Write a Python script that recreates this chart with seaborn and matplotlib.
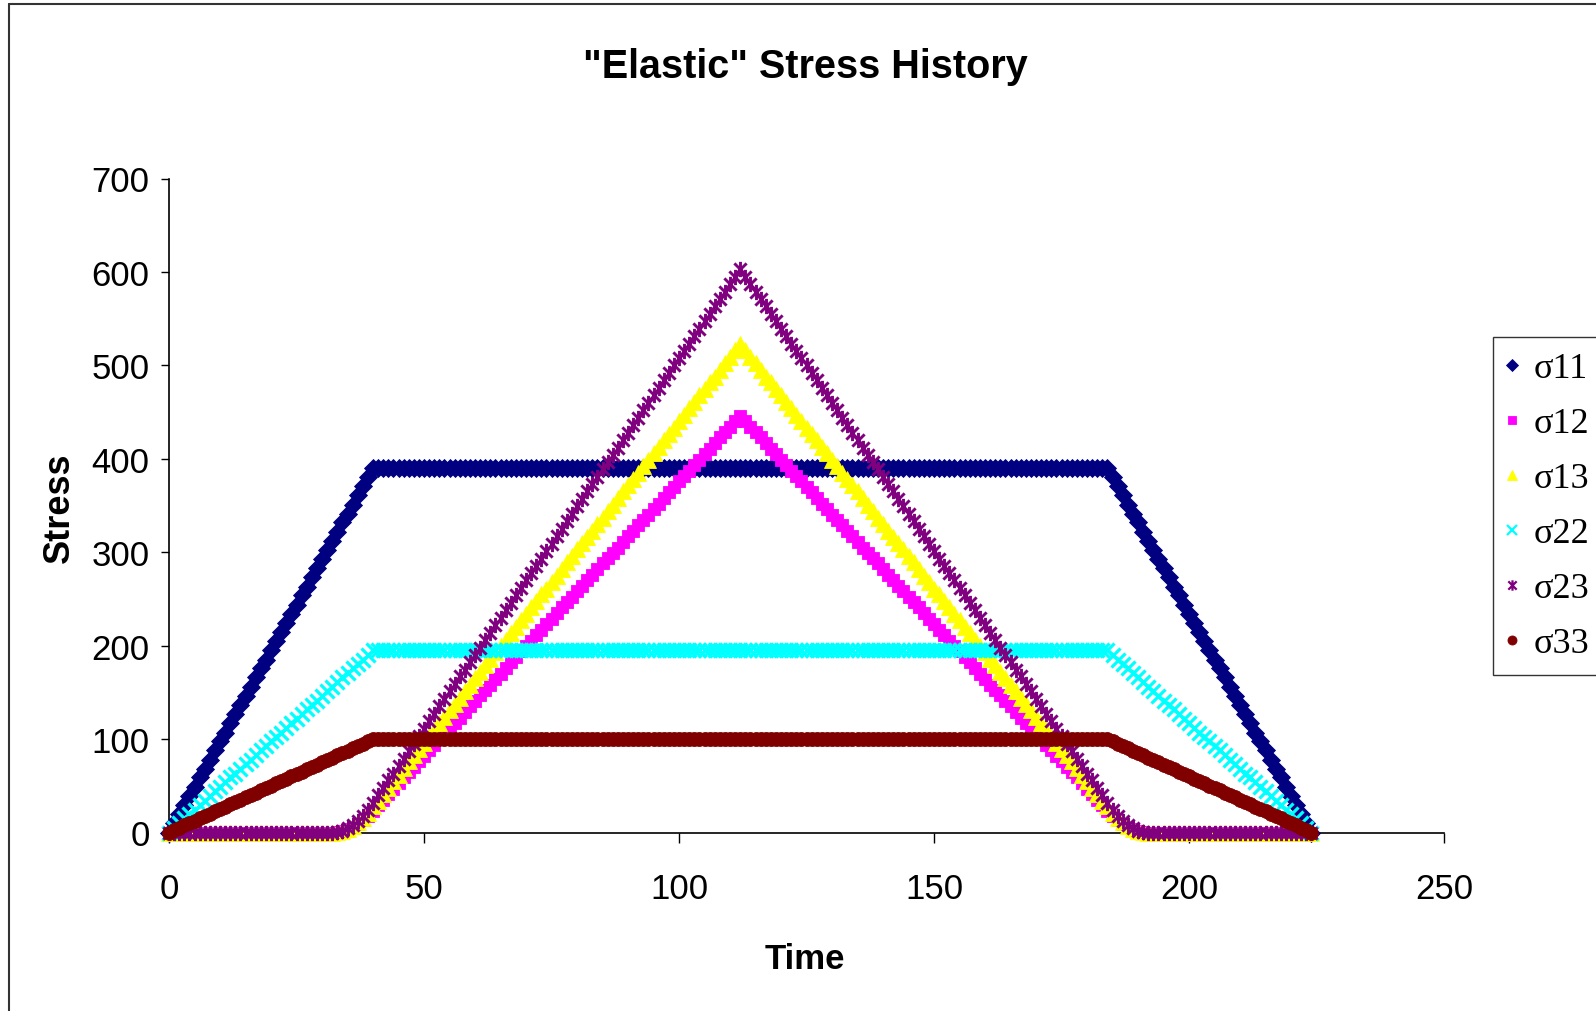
import matplotlib
matplotlib.use("Agg")
import matplotlib.pyplot as plt
from matplotlib.path import Path
from matplotlib.lines import Line2D
import seaborn as sns
import pandas as pd

# ---------------- data ----------------
time = [
    0, 1, 2, 3, 4, 5, 6, 7, 8, 9, 10, 11, 12, 13, 14, 15, 16, 17, 18, 19, 20, 21, 22, 23, 24,
    25, 26, 27, 28, 29, 30, 31, 32, 33, 34, 35, 36, 37, 38, 39, 40, 41, 42, 43, 44, 45, 46, 47, 48, 49,
    50, 51, 52, 53, 54, 55, 56, 57, 58, 59, 60, 61, 62, 63, 64, 65, 66, 67, 68, 69, 70, 71, 72, 73, 74,
    75, 76, 77, 78, 79, 80, 81, 82, 83, 84, 85, 86, 87, 88, 89, 90, 91, 92, 93, 94, 95, 96, 97, 98, 99,
    100, 101, 102, 103, 104, 105, 106, 107, 108, 109, 110, 111, 112, 113, 114, 115, 116, 117, 118, 119, 120, 121, 122, 123, 124,
    125, 126, 127, 128, 129, 130, 131, 132, 133, 134, 135, 136, 137, 138, 139, 140, 141, 142, 143, 144, 145, 146, 147, 148, 149,
    150, 151, 152, 153, 154, 155, 156, 157, 158, 159, 160, 161, 162, 163, 164, 165, 166, 167, 168, 169, 170, 171, 172, 173, 174,
    175, 176, 177, 178, 179, 180, 181, 182, 183, 184, 185, 186, 187, 188, 189, 190, 191, 192, 193, 194, 195, 196, 197, 198, 199,
    200, 201, 202, 203, 204, 205, 206, 207, 208, 209, 210, 211, 212, 213, 214, 215, 216, 217, 218, 219, 220, 221, 222, 223, 224,
]

s11 = [
    0, 10, 20, 29, 39, 49, 59, 68, 78, 88, 98, 107, 117, 127, 137, 146, 156, 166, 176, 185,
    195, 205, 215, 224, 234, 244, 254, 263, 273, 283, 293, 302, 312, 322, 332, 341, 351, 361, 371, 380, 390,
    390, 390, 390, 390, 390, 390, 390, 390, 390, 390, 390, 390, 390,
    390, 390, 390, 390, 390, 390, 390, 390, 390, 390, 390, 390, 390,
    390, 390, 390, 390, 390, 390, 390, 390, 390, 390, 390, 390, 390,
    390, 390, 390, 390, 390, 390, 390, 390, 390, 390, 390, 390, 390,
    390, 390, 390, 390, 390, 390, 390, 390, 390, 390, 390, 390, 390,
    390, 390, 390, 390, 390, 390, 390, 390, 390, 390, 390, 390, 390,
    390, 390, 390, 390, 390, 390, 390, 390, 390, 390, 390, 390, 390,
    390, 390, 390, 390, 390, 390, 390, 390, 390, 390, 390, 390, 390,
    390, 390, 390, 390, 390, 390, 390, 390, 390, 390, 390, 390, 390,
    390, 390, 390, 390, 390, 390, 390, 390, 390, 390, 390, 390, 390,
    390, 390, 390, 390, 390, 390, 390, 390, 390, 390, 390, 390, 390,
    390, 380, 371, 361, 351, 341, 332, 322, 312, 302, 293, 283, 273, 263, 254, 244, 234, 224, 215, 205,
    195, 185, 176, 166, 156, 146, 137, 127, 117, 107, 98, 88, 78, 68, 59, 49, 39, 29, 20, 10, 0,
]

s22 = [
    0, 5, 10, 15, 20, 24, 29, 34, 39, 44, 49, 54, 59, 63, 68, 73, 78, 83, 88, 93,
    98, 102, 107, 112, 117, 122, 127, 132, 137, 141, 146, 151, 156, 161, 166, 171, 176, 180, 185, 190, 195,
    195, 195, 195, 195, 195, 195, 195, 195, 195, 195, 195, 195, 195,
    195, 195, 195, 195, 195, 195, 195, 195, 195, 195, 195, 195, 195,
    195, 195, 195, 195, 195, 195, 195, 195, 195, 195, 195, 195, 195,
    195, 195, 195, 195, 195, 195, 195, 195, 195, 195, 195, 195, 195,
    195, 195, 195, 195, 195, 195, 195, 195, 195, 195, 195, 195, 195,
    195, 195, 195, 195, 195, 195, 195, 195, 195, 195, 195, 195, 195,
    195, 195, 195, 195, 195, 195, 195, 195, 195, 195, 195, 195, 195,
    195, 195, 195, 195, 195, 195, 195, 195, 195, 195, 195, 195, 195,
    195, 195, 195, 195, 195, 195, 195, 195, 195, 195, 195, 195, 195,
    195, 195, 195, 195, 195, 195, 195, 195, 195, 195, 195, 195, 195,
    195, 195, 195, 195, 195, 195, 195, 195, 195, 195, 195, 195, 195,
    195, 190, 185, 180, 176, 171, 166, 161, 156, 151, 146, 141, 137, 132, 127, 122, 117, 112, 107, 102,
    98, 93, 88, 83, 78, 73, 68, 63, 59, 54, 49, 44, 39, 34, 29, 24, 20, 15, 10, 5, 0,
]

s33 = [
    0, 2.5, 5, 7.5, 10, 12.5, 15, 17.5, 20, 22.5, 25, 27.5, 30, 32.5, 35, 37.5, 40, 42.5, 45, 47.5,
    50, 52.5, 55, 57.5, 60, 62.5, 65, 67.5, 70, 72.5, 75, 77.5, 80, 82.5, 85, 87.5, 90, 92.5, 95, 97.5, 100,
    100, 100, 100, 100, 100, 100, 100, 100, 100, 100, 100, 100, 100,
    100, 100, 100, 100, 100, 100, 100, 100, 100, 100, 100, 100, 100,
    100, 100, 100, 100, 100, 100, 100, 100, 100, 100, 100, 100, 100,
    100, 100, 100, 100, 100, 100, 100, 100, 100, 100, 100, 100, 100,
    100, 100, 100, 100, 100, 100, 100, 100, 100, 100, 100, 100, 100,
    100, 100, 100, 100, 100, 100, 100, 100, 100, 100, 100, 100, 100,
    100, 100, 100, 100, 100, 100, 100, 100, 100, 100, 100, 100, 100,
    100, 100, 100, 100, 100, 100, 100, 100, 100, 100, 100, 100, 100,
    100, 100, 100, 100, 100, 100, 100, 100, 100, 100, 100, 100, 100,
    100, 100, 100, 100, 100, 100, 100, 100, 100, 100, 100, 100, 100,
    100, 100, 100, 100, 100, 100, 100, 100, 100, 100, 100, 100, 100,
    100, 97.5, 95, 92.5, 90, 87.5, 85, 82.5, 80, 77.5, 75, 72.5, 70, 67.5, 65, 62.5, 60, 57.5, 55, 52.5,
    50, 47.5, 45, 42.5, 40, 37.5, 35, 32.5, 30, 27.5, 25, 22.5, 20, 17.5, 15, 12.5, 10, 7.5, 5, 2.5, 0,
]

s23 = [
    0, 0, 0, 0, 0, 0, 0, 0, 0, 0, 0, 0, 0, 0, 0, 0, 0, 0, 0, 0, 0, 0, 0, 0, 0, 0, 0, 0, 0, 0, 0, 0, 0,
    0.5, 2, 4.5, 8, 12.4, 17.8, 24.3,
    32, 40, 48, 56, 63, 71, 79, 87, 95, 103, 111, 119, 127, 135, 143, 151, 159, 167, 174, 182,
    190, 198, 206, 214, 222, 230, 238, 246, 254, 262, 270, 278, 285, 293, 301, 309, 317, 325, 333, 341,
    349, 357, 365, 373, 381, 389, 397, 404, 412, 420, 428, 436, 444, 452, 460, 468, 476, 484, 492, 500,
    508, 515, 523, 531, 539, 547, 555, 563, 571, 579, 587, 595, 603,
    595, 587, 579, 571, 563, 555, 547, 539, 531, 523, 515, 508, 500, 492, 484, 476, 468, 460, 452, 444,
    436, 428, 420, 412, 404, 397, 389, 381, 373, 365, 357, 349, 341, 333, 325, 317, 309, 301, 293, 285,
    278, 270, 262, 254, 246, 238, 230, 222, 214, 206, 198, 190, 182, 174, 167, 159, 151, 143, 135, 127,
    119, 111, 103, 95, 87, 79, 71, 63, 56, 48, 40, 32,
    24.3, 17.8, 12.4, 8, 4.5, 2, 0.5,
    0, 0, 0, 0, 0, 0, 0, 0, 0, 0, 0, 0, 0, 0, 0, 0, 0, 0, 0, 0, 0, 0, 0, 0, 0, 0, 0, 0, 0, 0, 0, 0, 0,
]

s13 = [
    0, 0, 0, 0, 0, 0, 0, 0, 0, 0, 0, 0, 0, 0, 0, 0, 0, 0, 0, 0, 0, 0, 0, 0, 0, 0, 0, 0, 0, 0, 0, 0, 0,
    0.4, 1.7, 3.9, 6.9, 10.8, 15.5, 21.1,
    28, 34, 41, 48, 55, 62, 69, 76, 83, 89, 96, 103, 110, 117, 124, 131, 138, 144, 151, 158,
    165, 172, 179, 186, 193, 200, 206, 213, 220, 227, 234, 241, 248, 255, 261, 268, 275, 282, 289, 296,
    303, 310, 316, 323, 330, 337, 344, 351, 358, 365, 372, 378, 385, 392, 399, 406, 413, 420, 427, 433,
    440, 447, 454, 461, 468, 475, 482, 488, 495, 502, 509, 516, 523,
    516, 509, 502, 495, 488, 482, 475, 468, 461, 454, 447, 440, 433, 427, 420, 413, 406, 399, 392, 385,
    378, 372, 365, 358, 351, 344, 337, 330, 323, 316, 310, 303, 296, 289, 282, 275, 268, 261, 255, 248,
    241, 234, 227, 220, 213, 206, 200, 193, 186, 179, 172, 165, 158, 151, 144, 138, 131, 124, 117, 110,
    103, 96, 89, 83, 76, 69, 62, 55, 48, 41, 34, 28,
    21.1, 15.5, 10.8, 6.9, 3.9, 1.7, 0.4,
    0, 0, 0, 0, 0, 0, 0, 0, 0, 0, 0, 0, 0, 0, 0, 0, 0, 0, 0, 0, 0, 0, 0, 0, 0, 0, 0, 0, 0, 0, 0, 0, 0,
]

s12 = [
    0, 0, 0, 0, 0, 0, 0, 0, 0, 0, 0, 0, 0, 0, 0, 0, 0, 0, 0, 0, 0, 0, 0, 0, 0, 0, 0, 0, 0, 0, 0, 0, 0,
    0.4, 1.5, 3.3, 5.9, 9.2, 13.2, 18.0,
    23, 29, 35, 41, 47, 53, 59, 65, 70, 76, 82, 88, 94, 100, 106, 112, 117, 123, 129, 135,
    141, 147, 153, 158, 164, 170, 176, 182, 188, 194, 200, 205, 211, 217, 223, 229, 235, 241, 247, 252,
    258, 264, 270, 276, 282, 288, 294, 299, 305, 311, 317, 323, 329, 335, 340, 346, 352, 358, 364, 370,
    376, 382, 387, 393, 399, 405, 411, 417, 423, 429, 434, 440, 446,
    440, 434, 429, 423, 417, 411, 405, 399, 393, 387, 382, 376, 370, 364, 358, 352, 346, 340, 335, 329,
    323, 317, 311, 305, 299, 294, 288, 282, 276, 270, 264, 258, 252, 247, 241, 235, 229, 223, 217, 211,
    205, 200, 194, 188, 182, 176, 170, 164, 158, 153, 147, 141, 135, 129, 123, 117, 112, 106, 100, 94,
    88, 82, 76, 70, 65, 59, 53, 47, 41, 35, 29, 23,
    18.0, 13.2, 9.2, 5.9, 3.3, 1.5, 0.4,
    0, 0, 0, 0, 0, 0, 0, 0, 0, 0, 0, 0, 0, 0, 0, 0, 0, 0, 0, 0, 0, 0, 0, 0, 0, 0, 0, 0, 0, 0, 0, 0, 0,
]

series_names = ["σ11", "σ12", "σ13", "σ22", "σ23", "σ33"]
x_ticks = [0, 50, 100, 150, 200, 250]
y_ticks = [0, 100, 200, 300, 400, 500, 600, 700]

for arr in (s11, s12, s13, s22, s23, s33):
    assert len(arr) == len(time), len(arr)

df = pd.DataFrame({"Time": time, "σ11": s11, "σ12": s12, "σ13": s13,
                   "σ22": s22, "σ23": s23, "σ33": s33})

# ---------------- styling ----------------
sns.set_theme(style="white")
plt.rcParams['font.family'] = ['Liberation Sans', 'DejaVu Sans']

star = Path([(-1, -1), (1, 1), (-1, 1), (1, -1), (0, -1.25), (0, 1.25)],
            [Path.MOVETO, Path.LINETO, Path.MOVETO, Path.LINETO, Path.MOVETO, Path.LINETO])

styles = {
    "σ11": dict(color="#000080", marker="D", ms=9.5, mew=0.6, lms=6.0),
    "σ12": dict(color="#FF00FF", marker="s", ms=8.5, mew=0.6, lms=6.0),
    "σ13": dict(color="#FFFF00", marker="^", ms=11.0, mew=0.6, lms=7.5),
    "σ22": dict(color="#00FFFF", marker="x", ms=10.0, mew=2.3, lms=7.0),
    "σ23": dict(color="#800080", marker=star, ms=11.0, mew=2.1, lms=7.5),
    "σ33": dict(color="#800000", marker="o", ms=10.0, mew=0.6, lms=6.5),
}

W, H = 1596, 1012
fig = plt.figure(figsize=(W / 100, H / 100), dpi=100)
fig.patch.set_facecolor("white")
x0, x1 = 169, 1444
y0, y1 = 833.5, 179.5
ax = fig.add_axes([x0 / W, 1 - y0 / H, (x1 - x0) / W, (y0 - y1) / H])
ax.set_facecolor("white")

for name in series_names:
    st = styles[name]
    sns.lineplot(data=df, x="Time", y=name, ax=ax, color=st["color"],
                 marker=st["marker"], markersize=st["ms"], linestyle="",
                 markeredgecolor=st["color"], markeredgewidth=st["mew"],
                 markerfacecolor=st["color"], clip_on=False, zorder=3)

ax.set_xlim(0, 250)
ax.set_ylim(0, 700)
ax.set_xticks(x_ticks)
ax.set_yticks(y_ticks)
ax.set_xticklabels([str(v) for v in x_ticks])
ax.set_yticklabels([str(v) for v in y_ticks])
ax.set_xlabel("")
ax.set_ylabel("")
for side in ("top", "right"):
    ax.spines[side].set_visible(False)
for side in ("left", "bottom"):
    ax.spines[side].set_color("black")
    ax.spines[side].set_linewidth(1.2)
ax.tick_params(axis="x", direction="out", length=7.5, width=1.0, color="black",
               labelsize=25, pad=21, labelcolor="black", bottom=True)
ax.tick_params(axis="y", direction="out", length=6, width=1.0, color="black",
               labelsize=25, pad=8, labelcolor="black", left=True)
ax.grid(False)

fig.text(805 / W, 1 - 67 / H, '"Elastic" Stress History', ha="center", va="center",
         fontsize=28.5, fontweight="bold", color="black")
fig.text(805 / W, 1 - 960 / H, "Time", ha="center", va="center",
         fontsize=25, fontweight="bold", color="black")
fig.text(59 / W, 1 - 508 / H, "Stress", ha="center", va="center", rotation=90,
         fontsize=26, fontweight="bold", color="black")

handles = []
for name in series_names:
    st = styles[name]
    handles.append(Line2D([], [], linestyle="", marker=st["marker"], color=st["color"],
                          markerfacecolor=st["color"], markeredgecolor=st["color"],
                          markersize=st["lms"], markeredgewidth=min(st["mew"], 1.6)))
leg = ax.legend(handles, series_names, loc="upper left",
                bbox_to_anchor=(1493 / W, 1 - 338 / H), bbox_transform=fig.transFigure,
                frameon=True, fancybox=False, shadow=False, borderaxespad=0,
                borderpad=0.42, labelspacing=0.6, handlelength=0.22, handletextpad=0.48,
                prop={"family": ["Liberation Serif", "DejaVu Serif"], "size": 26})
leg.get_frame().set_edgecolor("black")
leg.get_frame().set_linewidth(1.0)
for t in leg.get_texts():
    t.set_color("black")

# figure border (left and top edges visible in the reference)
fig.add_artist(Line2D([9 / W, 9 / W], [0, 1 - 5 / H], transform=fig.transFigure,
                      color="#333333", linewidth=1.5))
fig.add_artist(Line2D([9 / W, 1], [1 - 5 / H, 1 - 5 / H], transform=fig.transFigure,
                      color="#333333", linewidth=1.5))

fig.savefig("out.png", dpi=100, facecolor="white")
